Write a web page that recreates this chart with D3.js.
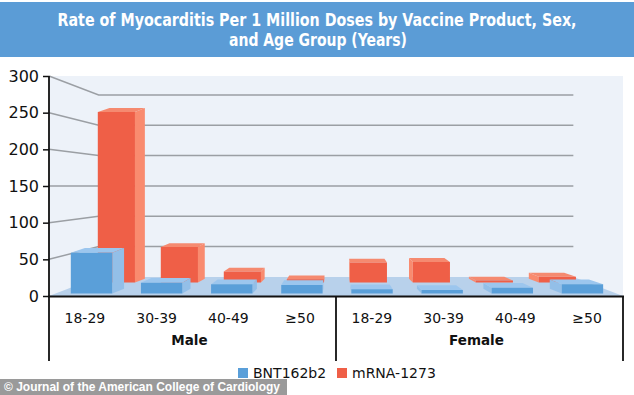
<!DOCTYPE html>
<html>
<head>
<meta charset="utf-8">
<script src="https://cdn.jsdelivr.net/npm/d3@7"></script>
<style>
  html, body { margin: 0; padding: 0; background: #fff; }
  svg { display: block; }
</style>
</head>
<body>
<svg id="chart"></svg>
<script>
// data
const ageGroups = ["18-29", "30-39", "40-49", "≥50"];
const sexes = ["Male", "Female"];
const seriesNames = ["BNT162b2", "mRNA-1273"];
const bnt162b2 = [57, 15, 13, 12, 6, 5, 8, 13];
const mrna1273 = [265, 55, 17, 5, 31, 32, 3, 9];
const yTicks = [0, 50, 100, 150, 200, 250, 300];

const width = 634, height = 395;
const svg = d3.select("#chart").attr("width", width).attr("height", height);

const categories = sexes.flatMap(s => ageGroups.map(a => s + " " + a));

const x = d3.scaleBand().domain(categories).range([49, 623]);
const y = d3.scaleLinear().domain([0, 300]).range([296, 76]);
// depth 0 = front plane, 1 = back wall; returns perspective factor
const depth = d3.scaleLinear().domain([0, 1]).range([1, 0.827]);
const vp = [336, 185.5];

const proj = (px, py, z) => {
    const s = depth(z);
    return [vp[0] + (px - vp[0]) * s, vp[1] + (py - vp[1]) * s];
};

const colour = d3.scaleOrdinal().domain(seriesNames).range(["#5a9fd9", "#ef5f47"]);
const faceColours = {
    "BNT162b2": {front: "#5a9fd9", top: "#9cc6ee", side: "#93bfe8"},
    "mRNA-1273": {front: "#ef5f47", top: "#f58a70", side: "#f98b6f"}
};
// depth slot of each series
const slots = {"BNT162b2": [0.13, 0.43], "mRNA-1273": [0.705, 0.955]};

// title banner
svg.append("rect")
    .attr("x", 0).attr("y", 2)
    .attr("width", width).attr("height", 55)
    .attr("fill", "#5b9cd6");

const titleFont = "'DejaVu Sans Condensed', 'Liberation Sans Narrow', 'DejaVu Sans', sans-serif";
svg.append("text")
    .attr("x", 317).attr("y", 26)
    .attr("text-anchor", "middle")
    .attr("fill", "#fff")
    .style("font-family", titleFont)
    .style("font-weight", "bold")
    .style("font-size", "17px")
    .attr("textLength", 519)
    .attr("lengthAdjust", "spacingAndGlyphs")
    .text("Rate of Myocarditis Per 1 Million Doses by Vaccine Product, Sex,");
svg.append("text")
    .attr("x", 318).attr("y", 46)
    .attr("text-anchor", "middle")
    .attr("fill", "#fff")
    .style("font-family", titleFont)
    .style("font-weight", "bold")
    .style("font-size", "17px")
    .attr("textLength", 178)
    .attr("lengthAdjust", "spacingAndGlyphs")
    .text("and Age Group (Years)");

// plot background
svg.append("rect")
    .attr("x", x.range()[0]).attr("y", y(300))
    .attr("width", x.range()[1] - x.range()[0])
    .attr("height", y(0) - y(300))
    .attr("fill", "#edf2f9");

// side-wall and back-wall gridlines
const grid = svg.append("g")
    .attr("stroke", "#9b9fa4")
    .attr("stroke-width", 1.5)
    .attr("fill", "none");
yTicks.filter(t => t > 0).forEach(t => {
    const a = [x.range()[0], y(t)];
    const b = proj(x.range()[0], y(t), 1);
    const c = proj(x.range()[1], y(t), 1);
    grid.append("path").attr("d", d3.line()([a, b, c]));
});

// floor
const floorPts = [
    [x.range()[0], y(0)],
    [x.range()[1], y(0)],
    proj(x.range()[1], y(0), 1),
    proj(x.range()[0], y(0), 1)
];
svg.append("path")
    .attr("d", d3.line()(floorPts) + "Z")
    .attr("fill", "#b8d1eb");

// bars, back series first
const rise = 90;
const bars = svg.append("g");
[["mRNA-1273", mrna1273], ["BNT162b2", bnt162b2]].forEach(([name, values]) => {
    const [z0, z1] = slots[name];
    const shift = rise * (depth(z0) - depth(z1));
    const fc = faceColours[name];
    const items = categories.map((c, i) => ({c, v: values[i]}))
        .sort((a, b) => Math.abs(x(b.c) + x.bandwidth() / 2 - vp[0]) - Math.abs(x(a.c) + x.bandwidth() / 2 - vp[0]));
    items.forEach(d => {
        const cx = x(d.c) + x.bandwidth() / 2 + 1;
        const bw = x.bandwidth() * 0.59;
        const xl = cx - bw / 2, xr = cx + bw / 2;
        const f = (px, py) => proj(px, py, z0);
        const b = (px, py) => {
            const p = proj(px, py, z1);
            return [p[0], f(px, py)[1] - shift];
        };
        const top = y(d.v), bot = y(0);
        const g = bars.append("g");
        const sx = cx < vp[0] ? xr : xl;
        g.append("path")
            .attr("d", d3.line()([f(sx, top), b(sx, top), b(sx, bot), f(sx, bot)]) + "Z")
            .attr("fill", fc.side);
        g.append("path")
            .attr("d", d3.line()([f(xl, top), f(xr, top), b(xr, top), b(xl, top)]) + "Z")
            .attr("fill", fc.top);
        g.append("path")
            .attr("d", d3.line()([f(xl, top), f(xr, top), f(xr, bot), f(xl, bot)]) + "Z")
            .attr("fill", fc.front);
    });
});

// y axis
const yAxis = svg.append("g")
    .attr("transform", `translate(${x.range()[0]},0)`)
    .call(d3.axisLeft(y).tickValues(yTicks).tickSize(6).tickPadding(4));
yAxis.select(".domain").remove();
yAxis.selectAll("line").attr("stroke", "#111").attr("stroke-width", 1.5);
yAxis.selectAll("text")
    .attr("fill", "#111")
    .style("font-family", "'DejaVu Sans', sans-serif")
    .style("font-size", "16px");

// axis box under the chart
const box = svg.append("g").attr("stroke", "#111").attr("fill", "none");
box.append("line")
    .attr("x1", x.range()[0]).attr("x2", x.range()[0])
    .attr("y1", y(300)).attr("y2", 361)
    .attr("stroke-width", 1.8);
box.append("line")
    .attr("x1", x.range()[0] - 1).attr("x2", x.range()[1] + 1)
    .attr("y1", y(0) + 0.5).attr("y2", y(0) + 0.5)
    .attr("stroke-width", 2);
[x(categories[4]), x.range()[1]].forEach(px => {
    box.append("line")
        .attr("x1", px).attr("x2", px)
        .attr("y1", y(0)).attr("y2", 361)
        .attr("stroke-width", 1.8);
});

// category labels
svg.append("g").selectAll("text")
    .data(categories)
    .join("text")
    .attr("x", c => x(c) + x.bandwidth() / 2)
    .attr("y", 323)
    .attr("text-anchor", "middle")
    .attr("fill", "#111")
    .style("font-family", "'DejaVu Sans', sans-serif")
    .style("font-size", "14px")
    .text(c => c.split(" ")[1]);

svg.append("g").selectAll("text")
    .data(sexes)
    .join("text")
    .attr("x", (s, i) => (x(categories[i * 4]) + x(categories[i * 4 + 3]) + x.bandwidth()) / 2 - 3)
    .attr("y", 345)
    .attr("text-anchor", "middle")
    .attr("fill", "#111")
    .style("font-family", "'DejaVu Sans', sans-serif")
    .style("font-weight", "bold")
    .style("font-size", "13.5px")
    .text(s => s);

// credit strip
svg.append("rect")
    .attr("x", 0).attr("y", 379)
    .attr("width", 287).attr("height", 16)
    .attr("fill", "#9a9a9a");
svg.append("text")
    .attr("x", 4).attr("y", 391)
    .attr("fill", "#fff")
    .style("font-family", "'Liberation Sans', Arial, sans-serif")
    .style("font-weight", "bold")
    .style("font-size", "12px")
    .attr("textLength", 276)
    .attr("lengthAdjust", "spacingAndGlyphs")
    .text("© Journal of the American College of Cardiology");

// legend
const legendX = [238, 337];
const legend = svg.append("g").selectAll("g")
    .data(seriesNames)
    .join("g")
    .attr("transform", (d, i) => `translate(${legendX[i]},368)`);
legend.append("rect")
    .attr("width", 10).attr("height", 10)
    .attr("fill", d => colour(d));
legend.append("text")
    .attr("x", 15).attr("y", 10)
    .attr("fill", "#111")
    .style("font-family", "'DejaVu Sans', sans-serif")
    .style("font-size", "14px")
    .text(d => d);
</script>
</body>
</html>
